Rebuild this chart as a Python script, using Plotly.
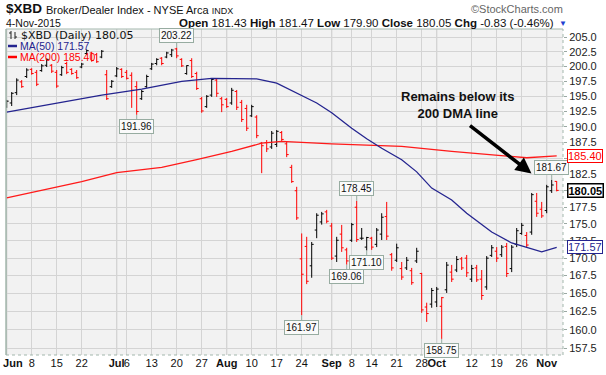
import math
import plotly.graph_objects as go

# ---------------- data ----------------
dates = [
    "2015-06-01","2015-06-02","2015-06-03","2015-06-04","2015-06-05","2015-06-08","2015-06-09","2015-06-10","2015-06-11","2015-06-12",
    "2015-06-15","2015-06-16","2015-06-17","2015-06-18","2015-06-19","2015-06-22","2015-06-23","2015-06-24","2015-06-25","2015-06-26",
    "2015-06-29","2015-06-30","2015-07-01","2015-07-02","2015-07-06","2015-07-07","2015-07-08","2015-07-09","2015-07-10","2015-07-13",
    "2015-07-14","2015-07-15","2015-07-16","2015-07-17","2015-07-20","2015-07-21","2015-07-22","2015-07-23","2015-07-24","2015-07-27",
    "2015-07-28","2015-07-29","2015-07-30","2015-07-31","2015-08-03","2015-08-04","2015-08-05","2015-08-06","2015-08-07","2015-08-10",
    "2015-08-11","2015-08-12","2015-08-13","2015-08-14","2015-08-17","2015-08-18","2015-08-19","2015-08-20","2015-08-21","2015-08-24",
    "2015-08-25","2015-08-26","2015-08-27","2015-08-28","2015-08-31","2015-09-01","2015-09-02","2015-09-03","2015-09-04","2015-09-08",
    "2015-09-09","2015-09-10","2015-09-11","2015-09-14","2015-09-15","2015-09-16","2015-09-17","2015-09-18","2015-09-21","2015-09-22",
    "2015-09-23","2015-09-24","2015-09-25","2015-09-28","2015-09-29","2015-09-30","2015-10-01","2015-10-02","2015-10-05","2015-10-06",
    "2015-10-07","2015-10-08","2015-10-09","2015-10-12","2015-10-13","2015-10-14","2015-10-15","2015-10-16","2015-10-19","2015-10-20",
    "2015-10-21","2015-10-22","2015-10-23","2015-10-26","2015-10-27","2015-10-28","2015-10-29","2015-10-30","2015-11-02","2015-11-03",
    "2015-11-04",
]
opens = [
    193.3, 193.9, 195.6, 197.4, 198.3, 199.5, 199.0, 199.3, 200.2, 200.2,
    199.0, 198.6, 200.5, 199.5, 199.0, 199.9, 202.2, 202.3, 202.0, 201.6,
    198.6, 196.6, 198.4, 199.5, 199.0, 198.5, 196.6, 194.6, 196.6, 199.6,
    200.5, 201.4, 201.6, 202.0, 203.0, 201.2, 198.8, 201.0, 198.8, 194.6,
    193.3, 195.2, 197.7, 194.6, 194.5, 193.9, 195.8, 194.0, 193.0, 191.8,
    191.6, 187.4, 187.5, 186.8, 187.2, 189.1, 187.3, 183.6, 180.0, 169.9,
    171.7, 168.9, 174.1, 175.3, 176.8, 174.7, 170.3, 173.5, 171.2, 172.6,
    177.5, 172.9, 171.6, 172.9, 172.0, 173.5, 176.1, 170.5, 169.7, 168.5,
    168.6, 168.2, 169.6, 167.8, 163.1, 163.5, 163.8, 163.2, 165.5, 168.0,
    168.3, 169.9, 170.0, 167.0, 168.6, 167.0, 165.9, 170.4, 171.0, 170.5,
    171.7, 168.5, 172.0, 173.6, 173.3, 173.8, 178.4, 177.2, 177.0, 180.0,
    181.43,
]
highs = [
    194.4, 195.7, 198.0, 197.7, 199.7, 199.7, 199.4, 200.4, 201.4, 200.4,
    199.4, 200.1, 200.8, 199.7, 199.4, 200.6, 202.9, 202.5, 202.3, 202.8,
    199.4, 197.7, 199.9, 199.7, 199.4, 199.0, 197.5, 196.05, 198.6, 200.6,
    201.4, 201.6, 202.5, 203.0, 203.22, 201.4, 200.2, 201.4, 199.1, 194.9,
    195.2, 198.05, 198.05, 194.9, 194.7, 196.4, 196.05, 194.4, 193.6, 193.6,
    191.9, 187.6, 187.9, 189.35, 189.5, 189.35, 187.6, 184.0, 180.6, 173.6,
    173.1, 172.35, 176.6, 176.8, 177.1, 175.15, 173.1, 174.86, 171.5, 175.15,
    178.45, 174.4, 173.1, 173.1, 174.4, 176.6, 178.3, 170.75, 172.1, 169.45,
    170.17, 168.6, 171.5, 167.9, 163.7, 165.76, 165.9, 164.5, 169.45, 169.03,
    170.3, 170.17, 170.46, 169.03, 169.03, 168.3, 170.3, 171.9, 171.6, 171.9,
    172.2, 171.9, 174.4, 175.15, 173.8, 179.66, 179.66, 178.3, 180.9, 181.67,
    181.47,
]
lows = [
    193.1, 193.4, 195.2, 196.4, 198.05, 198.6, 196.7, 199.1, 199.9, 198.9,
    196.4, 198.4, 198.7, 198.6, 197.9, 199.7, 202.0, 200.8, 200.6, 201.4,
    194.4, 196.4, 198.2, 198.05, 197.8, 193.1, 191.96, 194.4, 196.4, 199.4,
    200.2, 200.2, 201.4, 201.6, 201.4, 199.9, 198.6, 198.05, 196.05, 192.3,
    193.1, 194.9, 194.9, 192.4, 193.1, 193.6, 192.75, 190.8, 189.35, 191.6,
    188.2, 182.7, 186.0, 186.5, 186.8, 187.6, 185.2, 181.2, 175.6, 161.97,
    166.3, 167.2, 172.9, 174.9, 175.1, 169.74, 169.45, 170.9, 169.06, 172.35,
    172.35, 172.64, 171.10, 171.2, 171.6, 172.64, 172.64, 168.2, 169.45, 166.9,
    168.3, 166.2, 169.3, 162.3, 161.06, 163.0, 163.1, 158.75, 165.06, 166.6,
    168.0, 168.3, 167.3, 166.6, 166.6, 164.1, 165.5, 170.17, 169.45, 170.17,
    167.3, 168.0, 171.6, 173.4, 171.5, 173.4, 176.05, 175.9, 176.6, 179.66,
    179.90,
]
closes = [
    194.2, 195.5, 197.7, 196.6, 199.4, 198.8, 197.0, 200.1, 201.2, 199.2,
    196.7, 199.8, 199.0, 198.8, 198.1, 200.4, 202.7, 201.0, 200.8, 202.6,
    194.6, 197.5, 199.6, 198.3, 198.0, 196.0, 192.5, 195.8, 198.3, 200.4,
    201.2, 200.5, 202.3, 202.8, 201.8, 200.1, 200.15, 198.3, 196.3, 192.6,
    195.0, 197.8, 195.5, 193.6, 193.3, 196.0, 193.2, 191.2, 189.8, 193.3,
    188.6, 187.0, 186.5, 189.0, 189.3, 188.0, 185.6, 181.4, 175.9, 167.7,
    166.7, 172.0, 176.3, 176.5, 175.4, 170.0, 172.6, 171.5, 169.6, 174.9,
    172.7, 172.9, 173.0, 171.6, 174.1, 176.0, 173.2, 168.6, 171.5, 167.3,
    169.7, 166.5, 171.0, 162.7, 162.2, 165.4, 165.6, 164.4, 169.0, 167.0,
    169.8, 168.6, 167.9, 168.5, 166.9, 164.7, 170.0, 171.5, 170.0, 171.6,
    167.8, 171.6, 174.0, 174.8, 171.9, 179.4, 176.6, 176.2, 180.6, 180.88,
    180.05,
]

ma50_dates = ["2015-06-01","2015-06-10","2015-06-26","2015-07-09","2015-07-21","2015-07-29","2015-08-11",
              "2015-08-17","2015-08-20","2015-08-27","2015-09-01","2015-09-08","2015-09-11","2015-09-16",
              "2015-09-22","2015-09-25","2015-09-30","2015-10-06","2015-10-09","2015-10-16","2015-10-22",
              "2015-10-30","2015-11-04"]
ma50_values = [192.4, 193.4, 195.2, 196.2, 197.5, 198.0, 197.9,
               197.2, 196.0, 193.9, 192.3, 189.8, 188.1, 186.6,
               184.8, 182.9, 180.4, 178.6, 176.6, 173.8, 172.2,
               170.9, 171.57]

ma200_dates = ["2015-06-01","2015-06-15","2015-06-22","2015-07-01","2015-07-15","2015-07-24","2015-08-04",
               "2015-08-12","2015-08-18","2015-09-01","2015-09-22","2015-10-06","2015-10-27","2015-11-04"]
ma200_values = [178.9, 180.6, 181.4, 182.8, 183.6, 184.8, 186.1,
                187.4, 187.7, 187.3, 186.9, 186.1, 185.1, 185.40]

tick_dates = ["2015-06-01","2015-06-08","2015-06-15","2015-06-22","2015-07-01","2015-07-06","2015-07-13",
              "2015-07-20","2015-07-27","2015-08-03","2015-08-10","2015-08-17","2015-08-24","2015-09-01",
              "2015-09-08","2015-09-14","2015-09-21","2015-09-28","2015-10-01","2015-10-12","2015-10-19",
              "2015-10-26","2015-11-02"]
tick_labels = ["Jun","8","15","22","Jul","6","13","20","27","Aug","10","17","24","Sep",
               "8","14","21","28","Oct","12","19","26","Nov"]
month_starts = ["2015-06-01","2015-07-01","2015-08-03","2015-09-01","2015-10-01","2015-11-02"]

y_ticks = [157.5, 160.0, 162.5, 165.0, 167.5, 170.0, 172.5, 175.0, 177.5, 180.0,
           182.5, 185.0, 187.5, 190.0, 192.5, 195.0, 197.5, 200.0, 202.5, 205.0]

label_dates = ["2015-07-20","2015-07-08","2015-08-24","2015-09-09","2015-09-04","2015-09-11","2015-10-02","2015-11-03"]
label_kinds = ["high","low","low","high","low","low","low","high"]

# ---------------- layout helpers ----------------
W, H = 606, 375
L, R, T, B = 6, 563, 29, 355
def px(x):
    return (x - L) / (R - L)
def py(y):
    return (B - y) / (B - T)

n = len(dates)
up = [i == 0 or closes[i] >= closes[i - 1] for i in range(n)]

FONT = "Liberation Sans, Arial, sans-serif"
NAVY = "#24248f"
RED = "#ff0000"

fig = go.Figure()

fig.add_trace(go.Scatter(x=ma200_dates, y=ma200_values, mode="lines",
                         line=dict(color="#ff1a1a", width=1.3), hoverinfo="skip"))
fig.add_trace(go.Scatter(x=ma50_dates, y=ma50_values, mode="lines",
                         line=dict(color=NAVY, width=1.3), hoverinfo="skip"))

for flag, col in [(True, "#000000"), (False, RED)]:
    idx = [i for i in range(n) if up[i] == flag]
    fig.add_trace(go.Ohlc(
        x=[dates[i] for i in idx],
        open=[opens[i] for i in idx], high=[highs[i] for i in idx],
        low=[lows[i] for i in idx], close=[closes[i] for i in idx],
        increasing=dict(line=dict(color=col, width=1)),
        decreasing=dict(line=dict(color=col, width=1)),
        tickwidth=0.4, hoverinfo="skip"))

fig.update_layout(
    width=W, height=H, autosize=False,
    margin=dict(l=L, r=W - R, t=T, b=H - B, autoexpand=False),
    paper_bgcolor="white", plot_bgcolor="#f2f2f2",
    showlegend=False,
    font=dict(family=FONT, size=11, color="#222"),
)

xt = []
for t in tick_labels:
    if t.isalpha():
        xt.append("<b>%s</b>" % t)
    else:
        xt.append(t)
xt[0] = "\u00a0\u00a0\u00a0\u00a0<b>%s</b>" % tick_labels[0]

fig.update_xaxes(
    type="category", categoryorder="array", categoryarray=dates,
    range=[-0.14, 111.26], automargin=False, tickangle=0,
    tickmode="array", tickvals=tick_dates, ticktext=xt,
    showgrid=True, gridcolor="#d4d4d4", gridwidth=1,
    ticks="", showline=False, zeroline=False,
    rangeslider=dict(visible=False),
    tickfont=dict(size=11, color="#111", family=FONT),
)
fig.update_yaxes(
    type="log", range=[math.log10(156.6), math.log10(206.45)], automargin=False,
    side="right", tickmode="array", tickvals=y_ticks,
    ticktext=["%.1f" % v for v in y_ticks],
    ticks="outside", ticklen=3, tickcolor="#9aa8a2",
    showgrid=True, gridcolor="#d4d4d4", zeroline=False, showline=False,
    tickfont=dict(size=11, color="#222", family=FONT),
)

shapes = []
for d in month_starts:
    i = dates.index(d)
    shapes.append(dict(type="line", xref="x", yref="paper", x0=i, x1=i, y0=0, y1=1,
                       line=dict(color="#bcbcbc", width=1), layer="below"))
BORDER = "#a3b7ad"
shapes += [
    dict(type="line", xref="paper", yref="paper", x0=0, x1=1, y0=1, y1=1, line=dict(color=BORDER, width=1)),
    dict(type="line", xref="paper", yref="paper", x0=0, x1=0, y0=0, y1=1, line=dict(color=BORDER, width=1.5)),
    dict(type="line", xref="paper", yref="paper", x0=0, x1=1, y0=0, y1=0, line=dict(color=BORDER, width=1, dash="dot")),
    dict(type="line", xref="paper", yref="paper", x0=1, x1=1, y0=0, y1=1, line=dict(color=BORDER, width=1, dash="dot")),
    # legend line icons
    dict(type="line", xref="paper", yref="paper", x0=px(8), x1=px(17), y0=py(46), y1=py(46), line=dict(color=NAVY, width=2.5)),
    dict(type="line", xref="paper", yref="paper", x0=px(8), x1=px(17), y0=py(57), y1=py(57), line=dict(color=RED, width=2.5)),
    # tiny bar icon
    dict(type="line", xref="paper", yref="paper", x0=px(11), x1=px(11), y0=py(31), y1=py(39), line=dict(color="#222", width=1)),
    dict(type="line", xref="paper", yref="paper", x0=px(9), x1=px(11), y0=py(33), y1=py(33), line=dict(color="#222", width=1)),
    dict(type="line", xref="paper", yref="paper", x0=px(15), x1=px(15), y0=py(32), y1=py(39), line=dict(color="#222", width=1)),
    dict(type="line", xref="paper", yref="paper", x0=px(15), x1=px(17), y0=py(37), y1=py(37), line=dict(color="#222", width=1)),
]
fig.update_layout(shapes=shapes)

ann = []
def txt(x, y, text, size=11, color="#111", anchor="left", family=FONT):
    ann.append(dict(xref="paper", yref="paper", x=px(x), y=py(y), text=text, showarrow=False,
                    xanchor=anchor, yanchor="middle", font=dict(size=size, color=color, family=family)))

last = n - 1
chg = closes[last] - closes[last - 1]
pct = chg / closes[last - 1] * 100

txt(4, 9, "<b>$XBD</b>", size=13.5, color="#111")
txt(44, 10, "Broker/Dealer Index - NYSE Arca <span style='font-size:9px'>INDX</span>", size=11)
txt(565, 9, "©StockCharts.com", size=11, color="#666", anchor="right")
txt(4, 22.5, "4-Nov-2015", size=10.5)
txt(556, 22.5, "<b>Open</b> %.2f <b>High</b> %.2f <b>Low</b> %.2f <b>Close</b> %.2f <b>Chg</b> %.2f (%.2f%%)"
    % (opens[last], highs[last], lows[last], closes[last], chg, pct), size=11.5, anchor="right")
txt(557, 23, "▼", size=8, color="#1f3fd0")

txt(19, 35, "$XBD (Daily) %.2f" % closes[last], size=11, family="DejaVu Sans, Verdana, sans-serif")
txt(18, 46, "MA(50) %.2f" % ma50_values[-1], size=10.5, color=NAVY)
txt(18, 57, "MA(200) %.2f" % ma200_values[-1], size=10.5, color=RED)

txt(457, 104.5, "<b>Remains below its<br>200 DMA line</b>", size=13, color="#111", anchor="center")
ann.append(dict(xref="paper", yref="paper", x=px(531.5), y=py(173.5), text="", showarrow=True,
                axref="pixel", ayref="pixel", ax=-63, ay=-49, arrowhead=2, arrowsize=0.9,
                arrowwidth=3.5, arrowcolor="#000"))

LBL = "#97aca1"
for d, kind in zip(label_dates, label_kinds):
    i = dates.index(d)
    v = highs[i] if kind == "high" else lows[i]
    ann.append(dict(x=d, y=math.log10(v), xref="x", yref="y", text="%.2f" % v,
                    showarrow=True, arrowhead=0, arrowwidth=1, arrowcolor=LBL,
                    ax=0, ay=-12 if kind == "high" else 12,
                    font=dict(size=10, color="#111", family=FONT),
                    bgcolor="#fafafa", bordercolor=LBL, borderwidth=1, borderpad=1))

for v, col, bold in [(ma200_values[-1], RED, False), (closes[last], "#000", True), (ma50_values[-1], NAVY, False)]:
    t = "%.2f" % v
    ann.append(dict(xref="paper", x=1, yref="y", y=math.log10(v),
                    text="<b>%s</b>" % t if bold else t,
                    showarrow=False, xanchor="left", yanchor="middle", xshift=4,
                    font=dict(size=11, color=col, family=FONT), bgcolor="white",
                    bordercolor=col, borderwidth=1.5 if bold else 1, borderpad=0))

fig.update_layout(annotations=ann)
fig.write_html("out.html", config={"displayModeBar": False},
               post_script="document.body.style.margin='0px';document.body.style.padding='0px';")
